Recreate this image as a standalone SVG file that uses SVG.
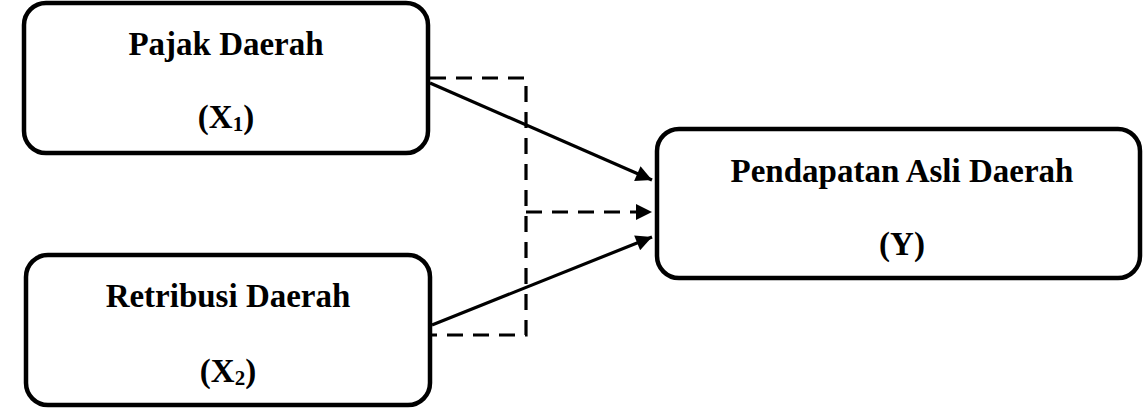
<svg xmlns="http://www.w3.org/2000/svg" width="1144" height="417" viewBox="0 0 1144 417">
<style>
.box{fill:#fff;stroke:#000;stroke-width:4.5}
.t{font-family:"Liberation Serif","Times New Roman",serif;font-weight:bold;font-size:33px;fill:#000;text-anchor:middle}
.sub{font-size:21px}
.c{stroke:#000;stroke-width:3.2;fill:none}
.d{stroke-dasharray:16 10}
</style>
<defs>
<marker id="ah" viewBox="0 0 10 10" refX="10" refY="5" markerWidth="6" markerHeight="5" markerUnits="strokeWidth" orient="auto">
<path d="M0,0 L10,5 L0,10 z" fill="#000"/>
</marker>
</defs>
<g id="x1">
<rect class="box" x="24" y="3" width="404" height="150" rx="22"/>
<text class="t" x="226" y="55">Pajak Daerah</text>
<text class="t" x="226" y="128">(X<tspan class="sub" dy="3">1</tspan><tspan dy="-3">)</tspan></text>
</g>
<g id="x2">
<rect class="box" x="26" y="255" width="404" height="150" rx="22"/>
<text class="t" x="228" y="307">Retribusi Daerah</text>
<text class="t" x="228" y="382">(X<tspan class="sub" dy="3">2</tspan><tspan dy="-3">)</tspan></text>
</g>
<g id="y">
<rect class="box" x="657" y="129" width="483" height="149" rx="22"/>
<text class="t" x="902" y="182">Pendapatan Asli Daerah</text>
<text class="t" x="902" y="255">(Y)</text>
</g>
<g id="connectors">
<line class="c" x1="430" y1="83" x2="652" y2="180" marker-end="url(#ah)"/>
<line class="c" x1="432" y1="325" x2="652" y2="237" marker-end="url(#ah)"/>
<polyline class="c d" points="430,78 526,78 526,335 430,335"/>
<line class="c d" x1="526" y1="212" x2="652" y2="212" marker-end="url(#ah)"/>
</g>
</svg>
